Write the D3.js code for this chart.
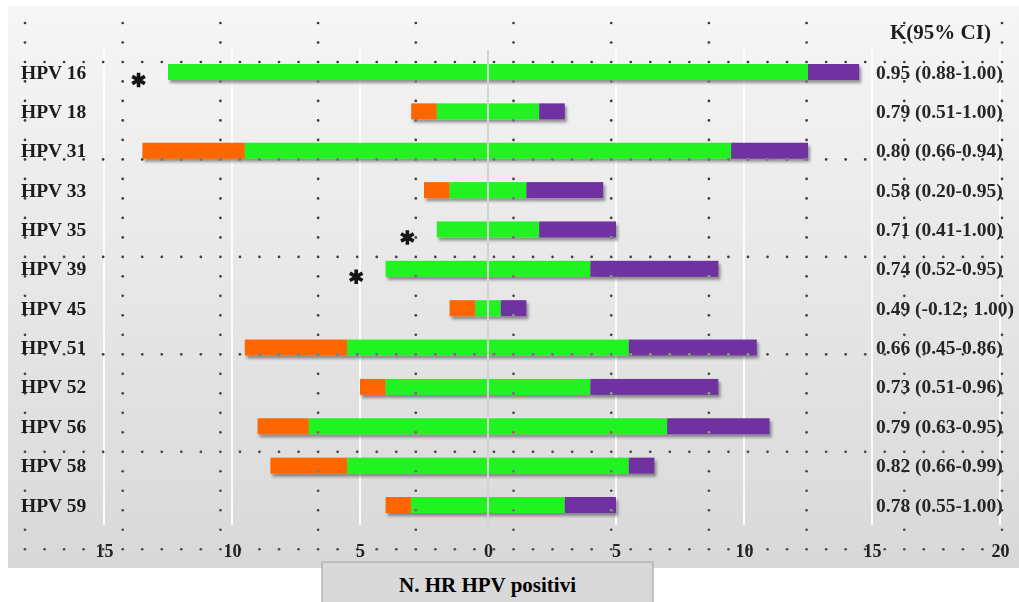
<!DOCTYPE html>
<html>
<head>
<meta charset="utf-8">
<script src="https://cdn.jsdelivr.net/npm/d3@7"></script>
<style>
  html, body { margin: 0; padding: 0; background: #ffffff; }
  svg { display: block; }
  text { font-family: "Liberation Serif", "Times New Roman", serif; font-weight: bold; }
</style>
</head>
<body>
<svg id="chart" width="1019" height="602"></svg>
<script>
// HR HPV types and the counts of positive samples for each
const types = ["HPV 16", "HPV 18", "HPV 31", "HPV 33", "HPV 35", "HPV 39",
               "HPV 45", "HPV 51", "HPV 52", "HPV 56", "HPV 58", "HPV 59"];
// positive with the first assay only (orange, left)
const onlyFirst  = [0, 1, 4, 1, 0, 0, 1, 4, 1, 2, 3, 1];
// positive with both assays (green, centred on zero)
const bothAssays = [25, 4, 19, 3, 4, 8, 1, 11, 8, 14, 11, 6];
// positive with the second assay only (purple, right)
const onlySecond = [2, 1, 3, 3, 3, 5, 1, 5, 5, 4, 1, 2];
// kappa agreement with 95% confidence interval
const kappaLabels = ["0.95 (0.88-1.00)", "0.79 (0.51-1.00)", "0.80 (0.66-0.94)",
                     "0.58 (0.20-0.95)", "0.71 (0.41-1.00)", "0.74 (0.52-0.95)",
                     "0.49 (-0.12; 1.00)", "0.66 (0.45-0.86)", "0.73 (0.51-0.96)",
                     "0.79 (0.63-0.95)", "0.82 (0.66-0.99)", "0.78 (0.55-1.00)"];
// types flagged with an asterisk
const flagged = ["HPV 16", "HPV 35", "HPV 39"];
const tickValues = [-15, -10, -5, 0, 5, 10, 15, 20];
const axisTitle = "N. HR HPV positivi";
const kappaHeader = "K(95% CI)";

const colors = { first: "#ff6600", both: "#22f220", second: "#7030a0" };

const rows = types.map((t, i) => ({
  type: t, first: onlyFirst[i], both: bothAssays[i], second: onlySecond[i],
  kappa: kappaLabels[i], flag: flagged.includes(t)
}));

const svg = d3.select("#chart");
const defs = svg.append("defs");

const grad = defs.append("linearGradient").attr("id", "panelGrad")
  .attr("x1", 0).attr("y1", 0).attr("x2", 0).attr("y2", 1);
grad.append("stop").attr("offset", "0%").attr("stop-color", "#f6f6f6");
grad.append("stop").attr("offset", "100%").attr("stop-color", "#d8d8d8");

const shadow = defs.append("filter").attr("id", "barShadow")
  .attr("x", "-5%").attr("y", "-40%").attr("width", "115%").attr("height", "200%");
shadow.append("feDropShadow").attr("dx", 2).attr("dy", 3)
  .attr("stdDeviation", 1.8).attr("flood-color", "#000").attr("flood-opacity", 0.4);

// scales
const x = d3.scaleLinear().domain([-15, 20]).range([104, 1000]);
const y = d3.scalePoint().domain(types).range([72, 505]);
const barH = 16;

// panel background
svg.append("rect").attr("x", 8).attr("y", 6).attr("width", 1011).attr("height", 562)
  .attr("fill", "url(#panelGrad)");

// vertical gridlines
const gridTop = 50, gridBottom = 525;
svg.append("g").selectAll("line")
  .data(tickValues.filter(v => v !== 0))
  .join("line")
  .attr("x1", d => x(d)).attr("x2", d => x(d))
  .attr("y1", gridTop).attr("y2", gridBottom)
  .attr("stroke", "#ffffff").attr("stroke-width", 2).attr("opacity", 0.9);

// stacked bars, centred on zero
const barG = svg.append("g");
const rowG = barG.selectAll("g").data(rows).join("g")
  .attr("filter", "url(#barShadow)");
rowG.each(function(d) {
  const g = d3.select(this);
  const half = d.both / 2;
  const segs = [
    { a: -half - d.first, b: -half, c: colors.first },
    { a: -half, b: half, c: colors.both },
    { a: half, b: half + d.second, c: colors.second }
  ].filter(s => s.b > s.a);
  g.selectAll("rect").data(segs).join("rect")
    .attr("x", s => x(s.a)).attr("width", s => x(s.b) - x(s.a))
    .attr("y", y(d.type) - barH / 2).attr("height", barH)
    .attr("fill", s => s.c);
});

// zero line
svg.append("line")
  .attr("x1", x(0)).attr("x2", x(0)).attr("y1", gridTop).attr("y2", gridBottom)
  .attr("stroke", "#d2d2d2").attr("stroke-width", 2);

// asterisks left of the flagged bars
const star = d3.symbol().type(d3.symbolAsterisk || d3.symbolCross).size(150);
svg.append("g").selectAll("path")
  .data(rows.filter(d => d.flag))
  .join("path")
  .attr("transform", d => `translate(${x(-d.both / 2 - d.first - 1.15)},${y(d.type) + 8})`)
  .attr("d", star)
  .attr("fill", "none").attr("stroke", "#151515").attr("stroke-width", 3.6);

// dotted table grid drawn over everything
const cellW = 97.7, cellH = 97.45, step = cellW / 5, stepY = cellH / 5;
const dots = [];
for (let i = 0; i <= 50; i++) {
  for (let j = 0; j <= 27; j++) {
    if (i % 5 === 0 || (j - 2) % 5 === 0) {
      dots.push([25 + i * step, 23 + j * stepY]);
    }
  }
}
svg.append("g")
  .selectAll("circle").data(dots).join("circle")
  .attr("cx", d => d[0]).attr("cy", d => d[1]).attr("r", 1.35)
  .attr("fill", "#ffffff").attr("opacity", 0.8)
  .style("mix-blend-mode", "difference");

// category labels
svg.append("g").selectAll("text").data(rows).join("text")
  .attr("x", 21).attr("y", d => y(d.type))
  .attr("dominant-baseline", "central")
  .attr("font-size", 19.5).attr("fill", "#1c1c1c")
  .text(d => d.type);

// kappa labels
svg.append("g").selectAll("text").data(rows).join("text")
  .attr("x", 876).attr("y", d => y(d.type))
  .attr("dominant-baseline", "central")
  .attr("font-size", 19.5).attr("fill", "#262626")
  .text(d => d.kappa);

svg.append("text").attr("x", 890).attr("y", 32)
  .attr("dominant-baseline", "central")
  .attr("font-size", 21).attr("fill", "#1c1c1c")
  .text(kappaHeader);

// x axis (absolute counts on both sides)
const axis = d3.axisBottom(x).tickValues(tickValues)
  .tickFormat(d => Math.abs(d)).tickSize(0);
const axG = svg.append("g").attr("transform", "translate(0,543)").call(axis);
axG.select(".domain").remove();
axG.selectAll("text").attr("font-size", 18).attr("fill", "#222")
  .attr("font-family", "Liberation Serif, serif").attr("font-weight", "bold")
  .attr("dy", "0.35em").attr("y", 8);

// axis title box
const boxX = 322, boxW = 331;
svg.append("rect").attr("x", boxX).attr("y", 562).attr("width", boxW).attr("height", 42)
  .attr("fill", "#d9d9d9").attr("stroke", "#b4b4b4").attr("stroke-width", 1.5);
svg.append("text").attr("x", boxX + boxW / 2).attr("y", 592)
  .attr("text-anchor", "middle").attr("font-size", 21).attr("fill", "#000")
  .text(axisTitle);
</script>
</body>
</html>
